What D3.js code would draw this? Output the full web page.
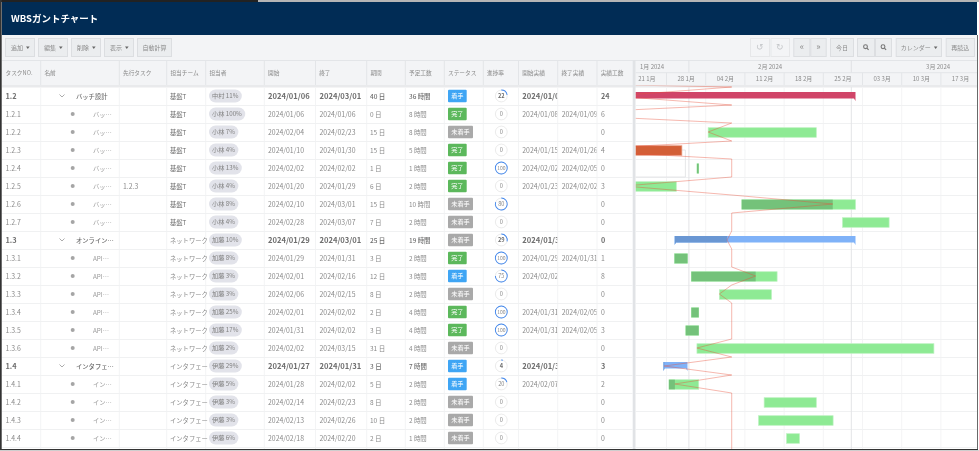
<!DOCTYPE html>
<html lang="ja">
<head>
<meta charset="utf-8">
<title>WBSガントチャート</title>
<script src="https://cdn.jsdelivr.net/npm/d3@7"></script>
<style>
    html, body { margin: 0; padding: 0; background: #fff; overflow: hidden; }
    svg { display: block; filter: blur(0.3px); }
    text { font-family: "Noto Sans CJK JP", "Noto Sans", sans-serif; }
</style>
</head>
<body>
<div id="chart"></div>
<script>
// データ
const taskIds = ['1.2', '1.2.1', '1.2.2', '1.2.3', '1.2.4', '1.2.5', '1.2.6', '1.2.7', '1.3', '1.3.1', '1.3.2', '1.3.3', '1.3.4', '1.3.5', '1.3.6', '1.4', '1.4.1', '1.4.2', '1.4.3', '1.4.4'];
const taskNames = ['バッチ設計', 'バッ…', 'バッ…', 'バッ…', 'バッ…', 'バッ…', 'バッ…', 'バッ…', 'オンライン…', 'API…', 'API…', 'API…', 'API…', 'API…', 'API…', 'インタフェ…', 'イン…', 'イン…', 'イン…', 'イン…'];
const predecessors = ['', '', '', '', '', '1.2.3', '', '', '', '', '', '', '', '', '', '', '', '', '', ''];
const teams = ['基盤T', '基盤T', '基盤T', '基盤T', '基盤T', '基盤T', '基盤T', '基盤T', 'ネットワーク', 'ネットワーク', 'ネットワーク', 'ネットワーク', 'ネットワーク', 'ネットワーク', 'ネットワーク', 'インタフェー', 'インタフェー', 'インタフェー', 'インタフェー', 'インタフェー'];
const assignees = ['中村 11%', '小林 100%', '小林 7%', '小林 4%', '小林 13%', '小林 4%', '小林 8%', '小林 4%', '加藤 10%', '加藤 8%', '加藤 3%', '加藤 3%', '加藤 25%', '加藤 17%', '加藤 2%', '伊藤 29%', '伊藤 5%', '伊藤 3%', '伊藤 3%', '伊藤 6%'];
const startDates = ['2024/01/06', '2024/01/06', '2024/02/04', '2024/01/10', '2024/02/02', '2024/01/20', '2024/02/10', '2024/02/28', '2024/01/29', '2024/01/29', '2024/02/01', '2024/02/06', '2024/02/01', '2024/01/31', '2024/02/02', '2024/01/27', '2024/01/28', '2024/02/14', '2024/02/13', '2024/02/18'];
const endDates = ['2024/03/01', '2024/01/06', '2024/02/23', '2024/01/30', '2024/02/02', '2024/01/29', '2024/03/01', '2024/03/07', '2024/03/01', '2024/01/31', '2024/02/16', '2024/02/15', '2024/02/02', '2024/02/02', '2024/03/15', '2024/01/31', '2024/02/02', '2024/02/23', '2024/02/26', '2024/02/20'];
const durations = [40, 0, 15, 15, 1, 6, 15, 7, 25, 3, 12, 8, 2, 3, 31, 3, 5, 8, 10, 2];
const plannedHours = [36, 8, 8, 5, 1, 2, 10, 2, 19, 2, 3, 2, 4, 4, 4, 7, 2, 2, 2, 1];
const statuses = ['着手', '完了', '未着手', '完了', '完了', '完了', '未着手', '未着手', '未着手', '完了', '着手', '未着手', '完了', '完了', '未着手', '着手', '着手', '未着手', '未着手', '未着手'];
const progress = [22, 0, 0, 0, 100, 0, 80, 0, 29, 100, 75, 0, 100, 100, 0, 4, 20, 0, 0, 0];
const actualStarts = ['2024/01/08', '2024/01/08', '', '2024/01/15', '2024/02/02', '2024/01/23', '', '', '2024/01/31', '2024/01/29', '2024/02/02', '', '2024/01/31', '2024/01/31', '', '2024/01/31', '2024/02/07', '', '', ''];
const actualEnds = ['', '2024/01/09', '', '2024/01/26', '2024/02/05', '2024/02/02', '', '', '', '2024/01/31', '', '', '2024/02/05', '2024/02/05', '', '', '', '', '', ''];
const actualHours = [24, 6, 0, 4, 0, 3, 0, 0, 0, 1, 8, 0, 0, 3, 0, 3, 2, 0, 0, 0];
const lateTasks = ['1.2', '1.2.3'];
const columnTitles = ['タスクNO.', '名前', '先行タスク', '担当チーム', '担当者', '開始', '終了', '期間', '予定工数', 'ステータス', '進捗率', '開始実績', '終了実績', '実績工数'];
const leftButtons = ['追加', '編集', '削除', '表示', '自動計算'];
const statusDate = '2024/02/08 15:30';
const hiddenRowProgress = '2023/11/17 10:30';

// レイアウト
const width = 979, height = 451;
const columnEdges = [2, 40.7, 119.3, 166.7, 205.7, 264.3, 315.5, 366.7, 405.3, 444.3, 483.3, 518.5, 557.7, 597, 632.5];
const chartLeft = 635.5, frameRight = 977, rowsTop = 87, rowsBottom = 447, frameBottom = 449;
const textColor = '#8a8a8a', boldColor = '#6e6e6e', lineColor = '#f0f1f2', headBg = '#f3f4f6';

const rows = taskIds.map((id, i) => ({
    id, i,
    summary: id.split('.').length === 2,
    name: taskNames[i], pred: predecessors[i], team: teams[i], assignee: assignees[i],
    start: startDates[i], end: endDates[i], duration: durations[i], planned: plannedHours[i],
    status: statuses[i], progress: progress[i], actualStart: actualStarts[i], actualEnd: actualEnds[i], actualHours: actualHours[i]
}));

const parseDay = d3.timeParse('%Y/%m/%d %H:%M');
const barStart = d => parseDay(d.start + ' 10:30');
const barEnd = d => parseDay(d.end + ' 18:00');

const x = d3.scaleTime()
    .domain([new Date(2024, 0, 28), new Date(2024, 1, 4)])
    .range([666.5, 705.7]);
const y = d3.scaleBand().domain(taskIds).range([rowsTop, rowsBottom]);
const rowMid = d => y(d.id) + y.bandwidth() / 2;
const progressX = d => x(barStart(d)) + (x(barEnd(d)) - x(barStart(d))) * d.progress / 100;

const svg = d3.select('#chart').append('svg').attr('width', width).attr('height', height);
const defs = svg.append('defs');

// 外枠と背景
svg.append('rect').attr('width', width).attr('height', height).attr('fill', '#fff');
svg.append('rect').attr('x', 258).attr('y', 0).attr('width', 721).attr('height', 2).attr('fill', '#b5b5b5');
svg.append('rect').attr('x', 0).attr('y', 0).attr('width', 258).attr('height', 2).attr('fill', '#222');
svg.append('rect').attr('x', 2).attr('y', 2).attr('width', frameRight - 2).attr('height', 33).attr('fill', '#012c55');
svg.append('text').attr('x', 11).attr('y', 22.3).attr('fill', '#fff').attr('font-size', 9.5).attr('font-weight', 700).text('WBSガントチャート');
svg.append('rect').attr('x', 2).attr('y', 35).attr('width', frameRight - 2).attr('height', 52).attr('fill', headBg);

// ツールバー
function drawButton(x0, x1, label, caret, disabled, size) {
    const g = svg.append('g').attr('class', 'button');
    g.append('rect').attr('x', x0 + .5).attr('y', 38.5).attr('width', x1 - x0 - 1).attr('height', 18)
        .attr('fill', disabled ? '#f3f4f6' : '#ebedef').attr('stroke', disabled ? '#e6e7e9' : '#dcdee1');
    const cx = (x0 + x1) / 2 - (caret ? 3 : 0);
    const t = g.append('text').attr('x', cx).attr('y', 49.7).attr('text-anchor', 'middle')
        .attr('font-size', size || 6).attr('fill', disabled ? '#c4c6c9' : '#8a8a8a').text(label);
    if (caret) {
        const tx = cx + t.node().getComputedTextLength() / 2 + 3;
        g.append('path').attr('d', `M${tx},46.5h3.6l-1.8,2.4z`).attr('fill', '#666');
    }
    return g;
}
function drawZoomIcon(g, cx) {
    g.append('circle').attr('cx', cx - .5).attr('cy', 46.7).attr('r', 1.9).attr('fill', 'none').attr('stroke', '#777').attr('stroke-width', 1.1);
    g.append('line').attr('x1', cx + .9).attr('y1', 48.1).attr('x2', cx + 2.6).attr('y2', 49.9).attr('stroke', '#777').attr('stroke-width', 1.2);
}
[[5, 35], [38, 68], [71, 101], [104, 134]].forEach((b, i) => drawButton(b[0], b[1], leftButtons[i], true));
drawButton(137, 172, leftButtons[4]);
drawButton(750, 770, '↺', false, true, 9);
drawButton(770.5, 790, '↻', false, true, 9);
drawButton(793.3, 810.3, '«', false, false, 9);
drawButton(810.3, 826.7, '»', false, false, 9);
drawButton(830, 854, '今日');
drawZoomIcon(drawButton(857, 875, ''), 866);
drawZoomIcon(drawButton(875, 892, ''), 883.5);
drawButton(895.7, 942, 'カレンダー', true);
drawButton(945.7, 975, '再読込');

// 列クリップ
columnEdges.slice(0, -1).forEach((edge, i) => {
    defs.append('clipPath').attr('id', `col-${i}`).append('rect')
        .attr('x', edge).attr('y', rowsTop).attr('width', columnEdges[i + 1] - edge - .5).attr('height', rowsBottom - rowsTop);
});
defs.append('clipPath').attr('id', 'gantt-clip').append('rect')
    .attr('x', chartLeft).attr('y', 85.5).attr('width', frameRight - chartLeft).attr('height', frameBottom - 85.5);
defs.append('clipPath').attr('id', 'gantt-head-clip').append('rect')
    .attr('x', chartLeft).attr('y', 60).attr('width', frameRight - chartLeft).attr('height', 25);

// テーブルのヘッダー
const head = svg.append('g').attr('class', 'table-head');
head.append('line').attr('x1', 2).attr('x2', frameRight).attr('y1', 60.5).attr('y2', 60.5).attr('stroke', '#e3e5e8');
head.selectAll('.col-title').data(columnTitles).enter().append('text')
    .attr('class', 'col-title')
    .attr('x', (d, i) => i === 0 ? 5.5 : columnEdges[i] + 3.7)
    .attr('y', 75).attr('font-size', 5.7).attr('fill', '#8a8a8a').text(d => d);
head.selectAll('.col-sep').data(columnEdges.slice(1, -1)).enter().append('line')
    .attr('class', 'col-sep').attr('x1', d => d).attr('x2', d => d).attr('y1', 60).attr('y2', 85).attr('stroke', '#e3e5e8');
head.append('rect').attr('x', 2).attr('y', 85).attr('width', frameRight - 2).attr('height', 2.5).attr('fill', '#e9eaec');

// テーブル本体
const table = svg.append('g').attr('class', 'table-body');
table.selectAll('.col-line').data(columnEdges.slice(1, -1)).enter().append('line')
    .attr('class', 'col-line').attr('x1', d => d).attr('x2', d => d).attr('y1', rowsTop).attr('y2', frameBottom).attr('stroke', '#f3f4f5');
table.selectAll('.row-line').data(taskIds).enter().append('line')
    .attr('class', 'row-line').attr('x1', 2).attr('x2', 632.5)
    .attr('y1', d => y(d) + y.bandwidth() + .5).attr('y2', d => y(d) + y.bandwidth() + .5).attr('stroke', lineColor);

// セルの文字（列ごとにクリップ）
function cellText(column, left, value, size, boldSize, weight) {
    table.append('g').attr('clip-path', `url(#col-${column})`)
        .selectAll('text').data(rows).enter().append('text')
        .attr('x', left).attr('y', d => rowMid(d) + 2.6)
        .attr('font-size', d => d.summary ? boldSize : size)
        .attr('font-weight', d => d.summary ? weight : 400)
        .attr('fill', d => d.summary ? boldColor : textColor)
        .text(value);
}
cellText(0, 5.5, d => d.id, 6.9, 7.4, 700);
cellText(2, 123, d => d.pred, 6.9, 6.9, 400);
cellText(5, 268, d => d.start, 6.9, 7.6, 700);
cellText(6, 319.5, d => d.end, 6.9, 7.6, 700);
cellText(7, 370, d => `${d.duration} 日`, 6.5, 6.5, 500);
cellText(8, 409, d => `${d.planned} 時間`, 6.4, 6.4, 500);
cellText(11, 522.3, d => d.actualStart, 6.9, 7.6, 700);
cellText(12, 561.7, d => d.actualEnd, 6.9, 7.6, 700);
cellText(13, 601, d => d.actualHours, 6.9, 7.2, 700);

const row = table.selectAll('.row').data(rows).enter().append('g')
    .attr('class', 'row')
    .attr('transform', d => `translate(0,${rowMid(d)})`);

// 担当チーム
row.append('text').attr('x', 170).attr('y', 2.6).attr('font-size', 6.3)
    .attr('fill', d => d.team === '基盤T' ? '#6e6e6e' : textColor).text(d => d.team);

// 名前列
row.append('text')
    .attr('x', d => d.summary ? 76 : 93).attr('y', 2.6).attr('font-size', 6.3)
    .attr('font-weight', d => d.summary ? 500 : 400)
    .attr('fill', d => d.summary ? boldColor : '#9a9a9a')
    .text(d => d.name);
row.filter(d => d.summary).append('path')
    .attr('d', 'M59.5,-1.5l2.5,2.5l2.5,-2.5').attr('fill', 'none').attr('stroke', '#888').attr('stroke-width', .7);
row.filter(d => !d.summary).append('circle')
    .attr('cx', 72.7).attr('cy', 0).attr('r', 2).attr('fill', '#a5a5a5');

// 担当者
const pill = row.append('g').attr('class', 'assignee');
const pillRect = pill.append('rect').attr('x', 209).attr('y', -6.5).attr('height', 13).attr('rx', 6.5).attr('fill', '#e2e3ea');
pill.append('text').attr('x', 212).attr('y', 2.2).attr('font-size', 6.2).attr('fill', '#808080').text(d => d.assignee);
pillRect.attr('width', function () {
    return this.parentNode.querySelector('text').getComputedTextLength() + 6.5;
});

// ステータス
const statusColors = { '着手': '#3fa5f4', '完了': '#5cb85c', '未着手': '#a9a9a9' };
row.append('rect').attr('x', 448).attr('y', -6.3).attr('height', 12.6).attr('rx', 1)
    .attr('width', d => d.status.length === 3 ? 25 : 18.7)
    .attr('fill', d => statusColors[d.status]);
row.append('text')
    .attr('x', d => 448 + (d.status.length === 3 ? 12.5 : 9.35)).attr('y', 2.3)
    .attr('text-anchor', 'middle').attr('font-size', 6.2).attr('fill', '#fff').text(d => d.status);

// 進捗率
const arc = d3.arc().innerRadius(5.5).outerRadius(6.4).startAngle(0);
row.append('circle').attr('cx', 501.3).attr('r', 5.9).attr('fill', '#fff').attr('stroke', '#e6e6e6').attr('stroke-width', .8);
row.append('path').attr('transform', 'translate(501.3,0)').attr('fill', '#3f86ee')
    .attr('d', d => arc({ endAngle: 2 * Math.PI * d.progress / 100 }));
row.append('text').attr('x', 501.3).attr('y', 2).attr('text-anchor', 'middle')
    .attr('font-size', d => d.progress === 100 ? 5 : 5.6)
    .attr('font-weight', d => d.summary ? 700 : 400)
    .attr('fill', d => d.summary ? boldColor : '#8a8a8a').text(d => d.progress);

// ガントのヘッダー
const weeks = d3.timeWeek.range(new Date(2024, 0, 21), new Date(2024, 2, 24));
const months = d3.timeMonth.range(new Date(2024, 0, 1), new Date(2024, 3, 1));
const ganttHead = svg.append('g').attr('clip-path', 'url(#gantt-head-clip)');
ganttHead.append('line').attr('x1', chartLeft).attr('x2', frameRight).attr('y1', 72.7).attr('y2', 72.7).attr('stroke', '#e3e5e8');
ganttHead.selectAll('.month-sep').data(months.slice(1)).enter().append('line')
    .attr('class', 'month-sep').attr('x1', d => x(d)).attr('x2', d => x(d)).attr('y1', 60).attr('y2', 72.7).attr('stroke', '#e0e2e5');
ganttHead.selectAll('.week-sep').data(weeks).enter().append('line')
    .attr('class', 'week-sep').attr('x1', d => x(d)).attr('x2', d => x(d)).attr('y1', 72.7).attr('y2', 85).attr('stroke', '#e3e5e8');
ganttHead.selectAll('.month-label').data(months).enter().append('text')
    .attr('class', 'month-label')
    .attr('x', (d, i) => i === 0 ? 640 : (x(d) + x(d3.timeMonth.offset(d, 1))) / 2)
    .attr('text-anchor', (d, i) => i === 0 ? 'start' : 'middle')
    .attr('y', 68.7).attr('font-size', 6).attr('fill', '#8a8a8a')
    .text(d => d3.timeFormat('%-m月 %Y')(d));
ganttHead.selectAll('.week-label').data(weeks).enter().append('text')
    .attr('class', 'week-label')
    .attr('x', d => x(d3.timeHour.offset(d, 84)))
    .attr('y', 81.3).attr('text-anchor', 'middle').attr('font-size', 6).attr('fill', '#8a8a8a')
    .text(d => d3.timeFormat('%d %-m月')(d));

// ガント本体
const gantt = svg.append('g').attr('clip-path', 'url(#gantt-clip)');
gantt.selectAll('.week-line').data(weeks).enter().append('line')
    .attr('class', 'week-line').attr('x1', d => x(d)).attr('x2', d => x(d)).attr('y1', rowsTop).attr('y2', frameBottom).attr('stroke', '#f4f4f5');
gantt.selectAll('.g-row-line').data(taskIds).enter().append('line')
    .attr('class', 'g-row-line').attr('x1', chartLeft).attr('x2', frameRight)
    .attr('y1', d => y(d) + y.bandwidth() + .5).attr('y2', d => y(d) + y.bandwidth() + .5).attr('stroke', lineColor);
gantt.selectAll('.month-line').data(months.slice(1)).enter().append('line')
    .attr('class', 'month-line').attr('x1', d => x(d)).attr('x2', d => x(d)).attr('y1', rowsTop).attr('y2', frameBottom).attr('stroke', '#e3e4e6');

// 先行タスクの接続線
rows.filter(d => d.pred).forEach(d => {
    const pred = rows.find(r => r.id === d.pred);
    gantt.append('path')
        .attr('d', `M${x(barEnd(pred))},${y(pred.id) + 9}h3.5V${y(d.id)}H${x(barStart(d)) - 4}`)
        .attr('fill', 'none').attr('stroke', '#e0e1e3').attr('stroke-width', .8);
});

// タスクバー
const tasks = rows.filter(d => !d.summary);
const isLate = d => lateTasks.includes(d.id);
gantt.selectAll('.bar').data(tasks).enter().append('rect')
    .attr('class', 'bar')
    .attr('x', d => x(barStart(d))).attr('y', d => y(d.id) + 4.7)
    .attr('width', d => x(barEnd(d)) - x(barStart(d))).attr('height', 9.6)
    .attr('fill', d => isLate(d) ? '#d35f37' : '#8eea94')
    .attr('stroke', d => isLate(d) ? '#e9a48d' : '#bdf2c0').attr('stroke-width', .7);
gantt.selectAll('.bar-progress').data(tasks.filter(d => d.progress > 0)).enter().append('rect')
    .attr('class', 'bar-progress')
    .attr('x', d => x(barStart(d))).attr('y', d => y(d.id) + 4.7)
    .attr('width', d => progressX(d) - x(barStart(d))).attr('height', 9.6)
    .attr('fill', '#74c27a');

// サマリーバー
const summaries = rows.filter(d => d.summary);
const summaryPath = d => {
    const x0 = x(barStart(d)), x1 = x(barEnd(d)), top = y(d.id) + 5;
    return `M${x0},${top}H${x1}V${top + 9}l-1.5,-2.5H${x0 + 1.5}l-1.5,2.5Z`;
};
defs.selectAll('.summary-clip').data(summaries).enter().append('clipPath')
    .attr('class', 'summary-clip').attr('id', d => `summary-${d.i}`)
    .append('path').attr('d', summaryPath);
gantt.selectAll('.summary').data(summaries).enter().append('path')
    .attr('class', 'summary').attr('d', summaryPath)
    .attr('fill', d => isLate(d) ? '#d04568' : '#7fb2f8');
gantt.selectAll('.summary-progress').data(summaries.filter(d => !isLate(d))).enter().append('rect')
    .attr('class', 'summary-progress')
    .attr('clip-path', d => `url(#summary-${d.i})`)
    .attr('x', d => x(barStart(d))).attr('y', d => y(d.id) + 5)
    .attr('width', d => progressX(d) - x(barStart(d))).attr('height', 9)
    .attr('fill', '#6a97d3');

// イナズマ線
const statusX = x(parseDay(statusDate));
const isOnLine = d => d.progress === 100 || (d.progress === 0 && barStart(d) > parseDay(statusDate));
const linePoints = [[x(parseDay(hiddenRowProgress)), rowsTop - 9], [statusX, rowsTop]];
rows.forEach(d => {
    if (!isOnLine(d)) linePoints.push([progressX(d), y(d.id) + 9]);
    linePoints.push([statusX, y(d.id) + 18]);
});
linePoints.push([statusX, frameBottom]);
gantt.append('path')
    .attr('d', d3.line()(linePoints))
    .attr('fill', 'none').attr('stroke', '#e8503a').attr('stroke-opacity', .45).attr('stroke-width', .9);

// 分割バーと枠線
svg.append('rect').attr('x', 632.7).attr('y', 60).attr('width', 2.8).attr('height', frameBottom - 60).attr('fill', '#e1e3e6');
svg.append('rect').attr('x', 0).attr('y', 0).attr('width', 1.7).attr('height', frameBottom).attr('fill', '#333');
svg.append('rect').attr('x', frameRight).attr('y', 35).attr('width', .8).attr('height', frameBottom - 35).attr('fill', '#444');
svg.append('rect').attr('x', 0).attr('y', frameBottom).attr('width', frameRight + 1).attr('height', 1.2).attr('fill', '#333');
svg.append('rect').attr('x', 0).attr('y', frameBottom + 1.2).attr('width', width).attr('height', .8).attr('fill', '#ccc');
</script>
</body>
</html>
